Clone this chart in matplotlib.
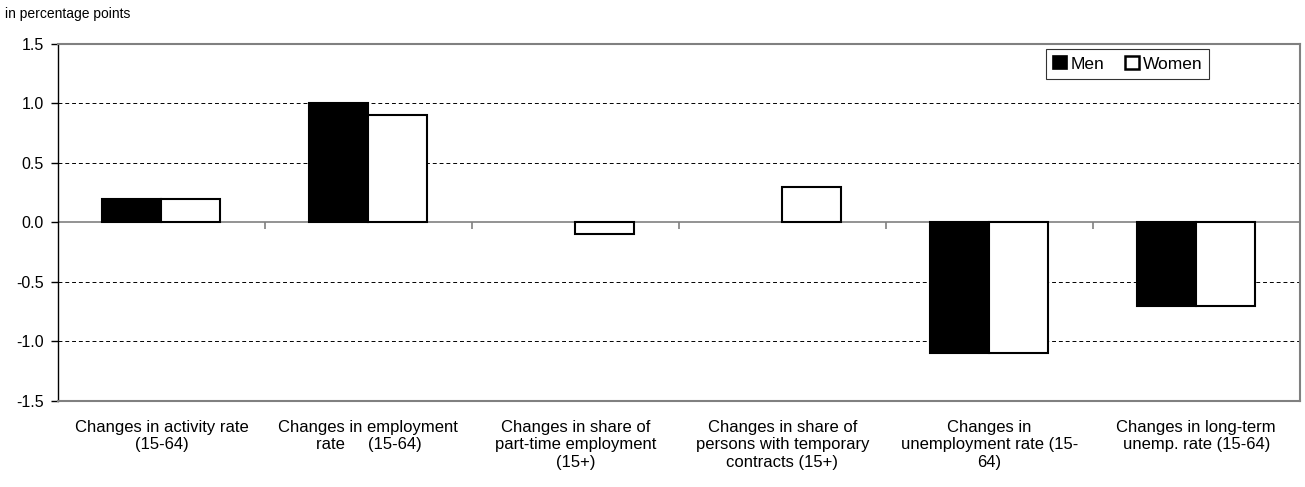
import matplotlib
matplotlib.use("Agg")
import matplotlib.pyplot as plt
import numpy as np
from matplotlib.patches import Patch

plt.rcParams['font.family'] = ['Liberation Sans', 'DejaVu Sans']

categories = [
    "Changes in activity rate\n(15-64)",
    "Changes in employment\nrate     (15-64)",
    "Changes in share of\npart-time employment\n(15+)",
    "Changes in share of\npersons with temporary\ncontracts (15+)",
    "Changes in\nunemployment rate (15-\n64)",
    "Changes in long-term\nunemp. rate (15-64)",
]
men = [0.2, 1.0, 0.0, 0.0, -1.1, -0.7]
women = [0.2, 0.9, -0.1, 0.3, -1.1, -0.7]
yticks = [-1.5, -1.0, -0.5, 0.0, 0.5, 1.0, 1.5]

fig = plt.figure(figsize=(13.05, 4.87), dpi=100)
ax = fig.add_axes([0.0444, 0.1766, 0.9516, 0.7331])

x = np.arange(len(categories))
w = 0.285
b1 = ax.bar(x - w/2, men, w, color='black', edgecolor='black', linewidth=1.5, zorder=3, label='Men')
b2 = ax.bar(x + w/2, women, w, color='white', edgecolor='black', linewidth=1.5, zorder=3, label='Women')
for p in list(b1) + list(b2):
    if p.get_height() == 0:
        p.set_linewidth(0)

ax.set_xlim(-0.5, len(categories) - 0.5)
ax.set_ylim(-1.5, 1.5)
ax.set_yticks(yticks)
ax.set_yticklabels([f"{v:.1f}" for v in yticks], fontsize=11.5)
ax.tick_params(axis='y', direction='out', length=5, width=1, color='black', pad=5)

for v in yticks:
    if v not in (0.0, 1.5, -1.5):
        ax.axhline(v, color='black', linestyle=(0, (4, 3)), linewidth=0.7, zorder=1)

ax.axhline(0, color='#808080', linewidth=1.2, zorder=2)
bounds = np.arange(len(categories) + 1) - 0.5
ax.vlines(bounds[1:-1], 0, -0.055, color='#808080', linewidth=1.2, zorder=2)

ax.set_xticks(x)
ax.set_xticklabels(categories, fontsize=12, linespacing=1.17)
ax.tick_params(axis='x', length=0, pad=14)

for s in ['top', 'right', 'bottom']:
    ax.spines[s].set_color('#808080')
    ax.spines[s].set_linewidth(1.5)
ax.spines['left'].set_color('black')
ax.spines['left'].set_linewidth(1.0)

handles = [Patch(facecolor='black', edgecolor='black', linewidth=1.2, label='Men'),
           Patch(facecolor='white', edgecolor='black', linewidth=1.8, label='Women')]
leg = ax.legend(handles=handles, loc='upper right', bbox_to_anchor=(0.927, 0.986), ncol=2,
                fontsize=12.5, frameon=True, fancybox=False, handlelength=0.8, handleheight=0.8,
                handletextpad=0.2, columnspacing=1.2, borderpad=0.4, borderaxespad=0,
                edgecolor='black')
leg.get_frame().set_linewidth(0.8)

fig.text(0.004, 0.971, "in percentage points", fontsize=10, ha='left', va='center')

fig.savefig("out.png", dpi=100)
